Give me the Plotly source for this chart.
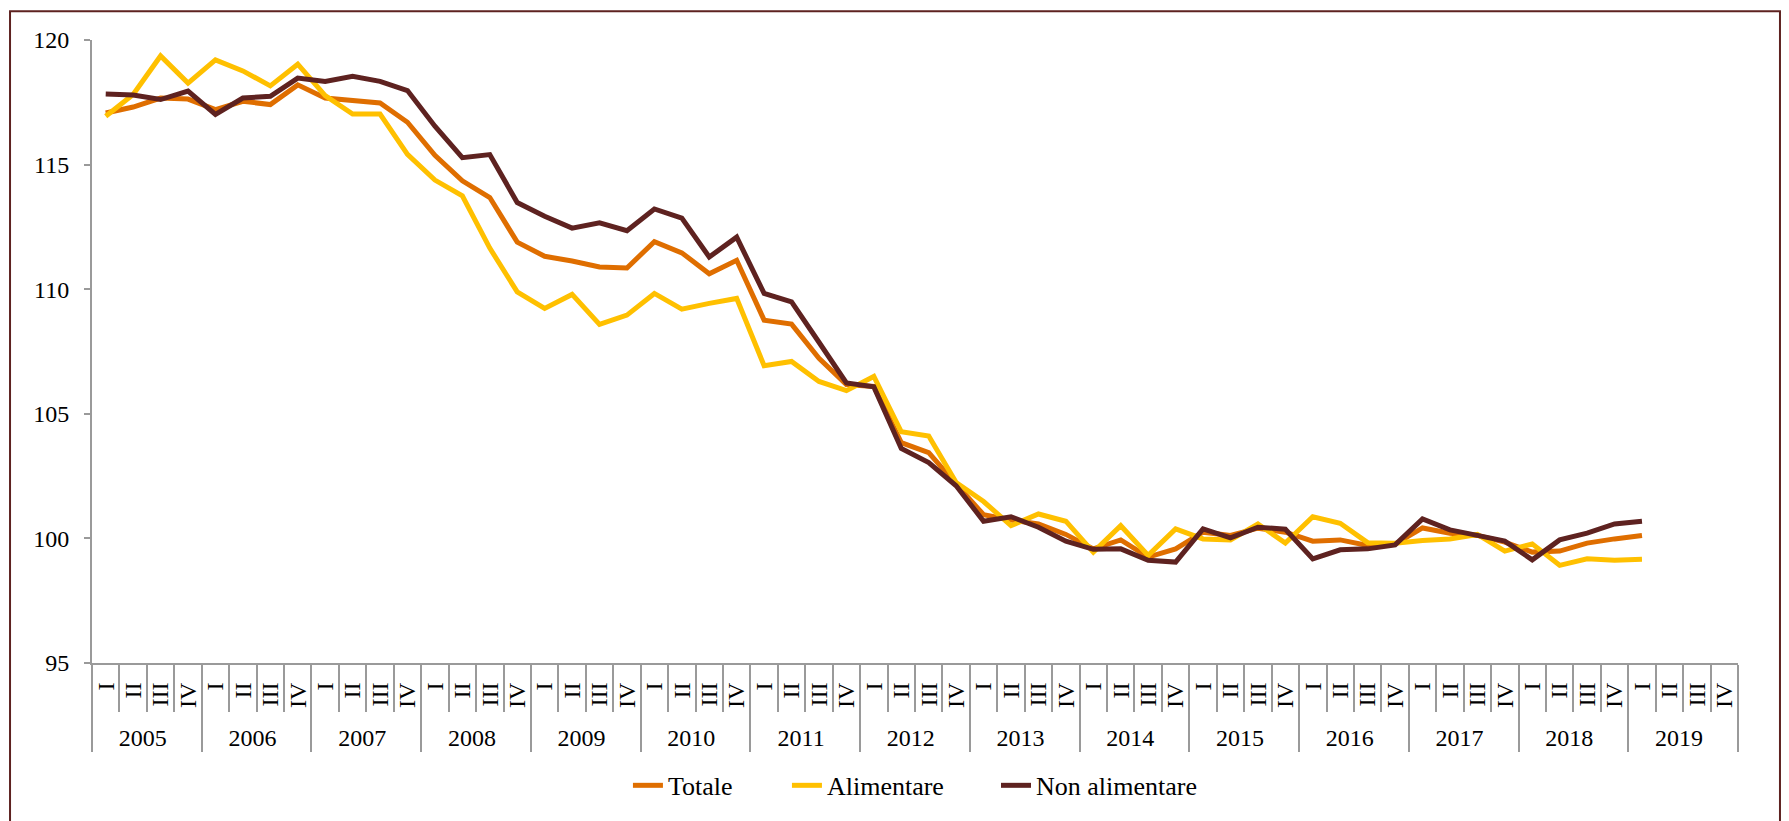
import plotly.graph_objects as go

years = [str(y) for y in range(2005, 2020)]
quarters = ["I", "II", "III", "IV"]

totale = [117.07, 117.31, 117.67, 117.63, 117.21, 117.54, 117.41, 118.20, 117.67, 117.58,
          117.47, 116.70, 115.37, 114.35, 113.68, 111.89, 111.32, 111.13, 110.89, 110.85,
          111.91, 111.46, 110.62, 111.16, 108.76, 108.60, 107.23, 106.17, 106.10, 103.84,
          103.44, 102.18, 100.95, 100.74, 100.58, 100.16, 99.58, 99.94, 99.25, 99.58,
          100.25, 100.12, 100.41, 100.25, 99.89, 99.94, 99.72, 99.77, 100.42, 100.21,
          100.12, 99.85, 99.45, 99.49, 99.81, 99.98, 100.12]
alimentare = [116.94, 117.81, 119.36, 118.27, 119.20, 118.76, 118.16, 119.03, 117.77, 117.03,
              117.03, 115.41, 114.38, 113.75, 111.65, 109.89, 109.23, 109.79, 108.59, 108.96,
              109.83, 109.20, 109.43, 109.63, 106.93, 107.10, 106.30, 105.93, 106.50, 104.28,
              104.11, 102.24, 101.48, 100.51, 100.98, 100.69, 99.45, 100.51, 99.32, 100.38,
              99.98, 99.94, 100.58, 99.81, 100.87, 100.61, 99.83, 99.81, 99.92, 99.98,
              100.16, 99.49, 99.78, 98.92, 99.18, 99.12, 99.16]
non_alimentare = [117.83, 117.79, 117.61, 117.95, 117.01, 117.67, 117.74, 118.47, 118.34, 118.54,
                  118.34, 117.97, 116.54, 115.28, 115.40, 113.48, 112.93, 112.45, 112.66, 112.35,
                  113.22, 112.85, 111.29, 112.09, 109.83, 109.49, 107.87, 106.24, 106.08, 103.61,
                  103.04, 102.11, 100.69, 100.87, 100.45, 99.89, 99.56, 99.58, 99.12, 99.05,
                  100.38, 100.02, 100.45, 100.37, 99.18, 99.54, 99.58, 99.74, 100.78, 100.34,
                  100.12, 99.89, 99.14, 99.94, 100.21, 100.58, 100.69]

y_ticks = [95, 100, 105, 110, 115, 120]

x_years = [y for y in years for q in quarters]
x_quarters = [q for y in years for q in quarters]
n_cat = len(x_years)

def pad(vals):
    return vals + [None] * (n_cat - len(vals))

series = [
    ("Totale", totale, "#DF6E00", "legend", 0.3256),
    ("Alimentare", alimentare, "#FFC000", "legend2", 0.4222),
    ("Non alimentare", non_alimentare, "#5E2220", "legend3", 0.5492),
]

FONT = "Georgia, 'Liberation Serif', serif"
GRAY = "#9A9A9A"

fig = go.Figure()
legends = {}
for name, vals, color, leg, lx in series:
    fig.add_trace(go.Scatter(
        x=[x_years, x_quarters], y=pad(vals), name=name, mode="lines",
        line=dict(color=color, width=5), connectgaps=False, legend=leg,
    ))
    legends[leg] = dict(orientation="h", x=lx, xanchor="left", y=-0.1965, yanchor="middle",
                        font=dict(family=FONT, size=26), bgcolor="rgba(0,0,0,0)")

fig.update_layout(
    width=1781, height=813,
    paper_bgcolor="white", plot_bgcolor="white",
    margin=dict(l=84, r=51, t=32, b=155),
    font=dict(family=FONT, size=24, color="#000000"),
    showlegend=True,
    **legends,
    xaxis=dict(
        type="multicategory", range=[-0.5, n_cat - 0.5],
        tickmode="linear", tick0=0, dtick=1,
        showline=True, linecolor=GRAY, linewidth=2,
        ticks="outside", tickson="boundaries", ticklen=47, tickcolor=GRAY, tickwidth=1.5,
        showdividers=True, dividercolor=GRAY, dividerwidth=1.5,
        tickangle=-90, tickfont=dict(family=FONT, size=24), ticklabelstandoff=8,
        showgrid=False, zeroline=False,
    ),
    yaxis=dict(
        range=[95, 120], tickvals=y_ticks, ticktext=[str(v) for v in y_ticks],
        showline=True, linecolor=GRAY, linewidth=2,
        ticks="outside", ticklen=6, tickcolor=GRAY, tickwidth=2, ticklabelstandoff=10,
        showgrid=False, zeroline=False, tickfont=dict(family=FONT, size=24),
    ),
    shapes=[dict(type="rect", xref="paper", yref="paper",
                 x0=-0.0498, x1=1.0255, y0=-0.4, y1=1.0463,
                 line=dict(color="#5E2220", width=2), fillcolor="rgba(0,0,0,0)", layer="below")],
)

fig.write_html("out.html")
